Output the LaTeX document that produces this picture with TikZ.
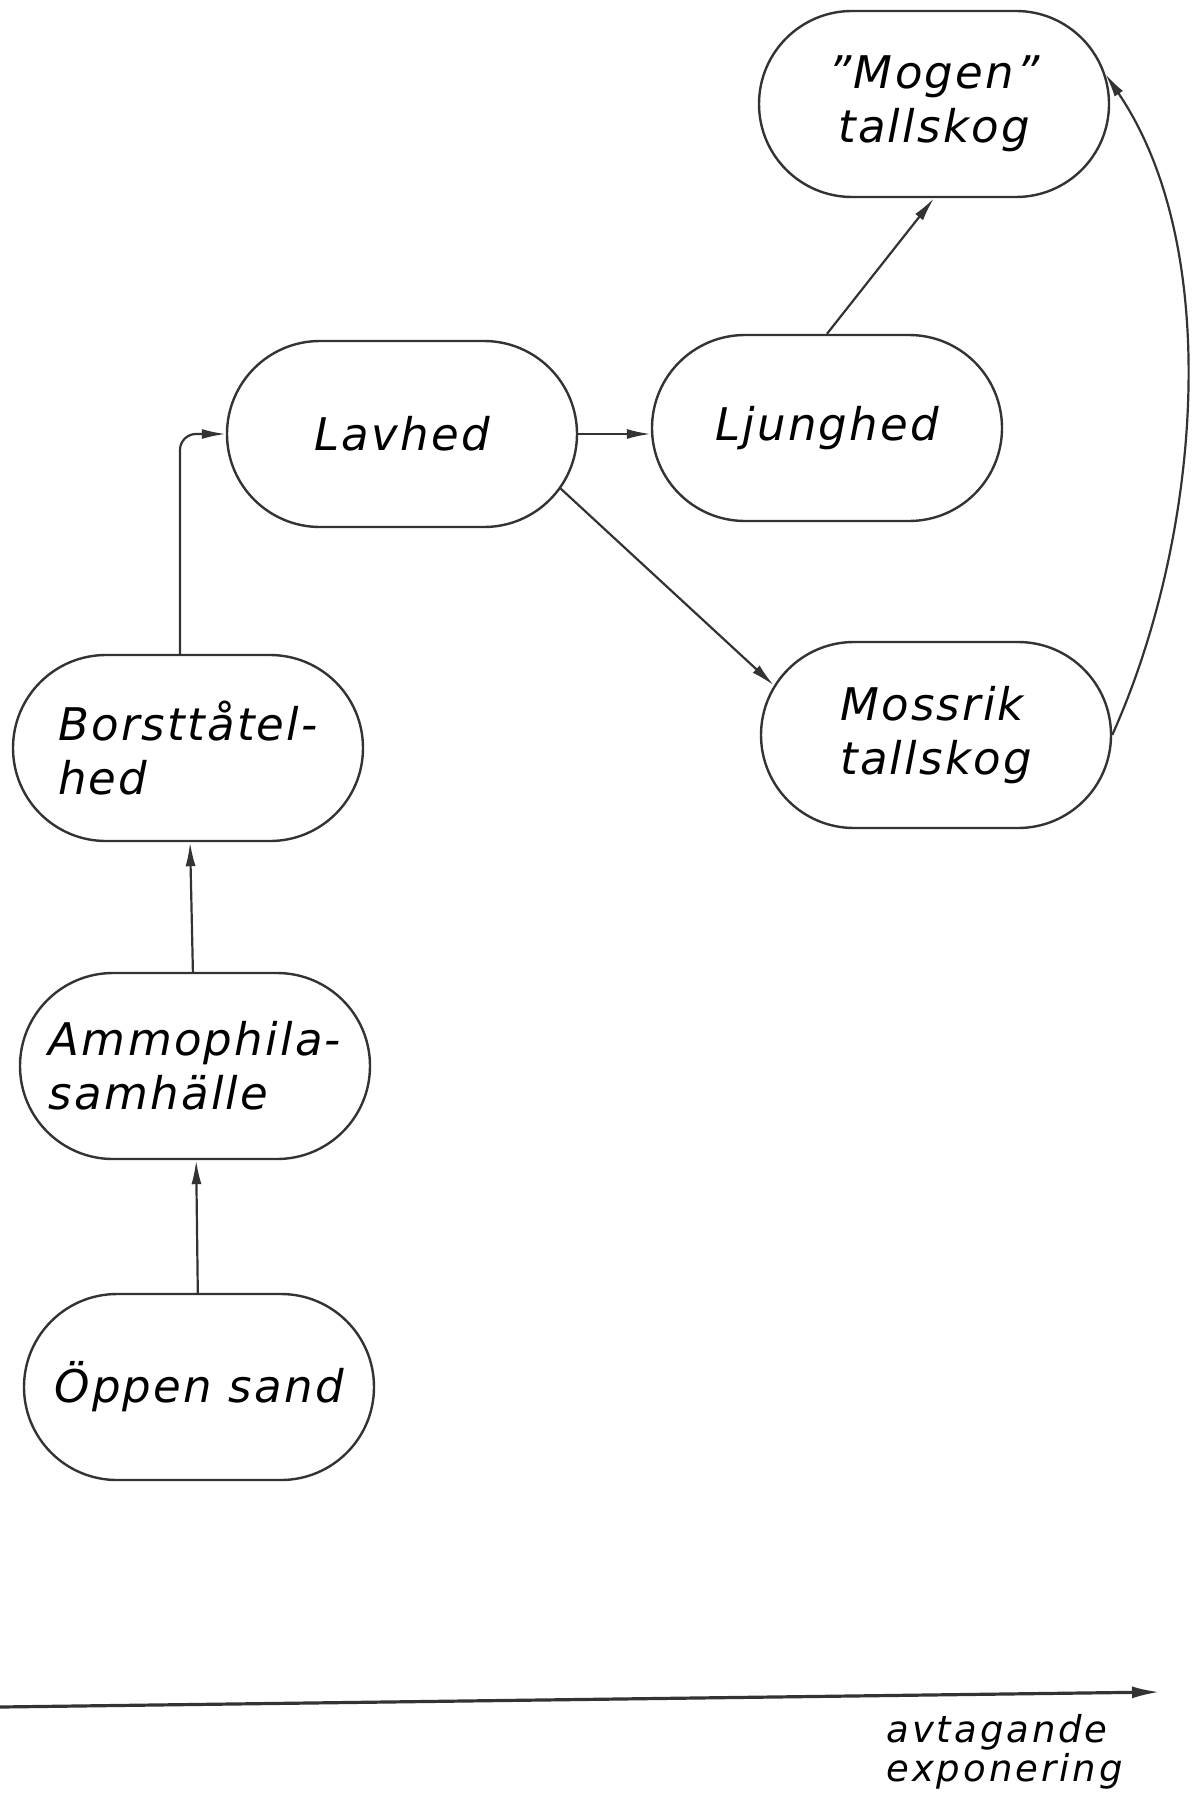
\documentclass[tikz,border=0pt]{standalone}
\usepackage{fontspec}
\setmainfont{DejaVu Sans}[LetterSpace=5]
\usetikzlibrary{shapes.misc,arrows.meta,positioning}

\begin{document}
\begin{tikzpicture}[x=0.5pt,y=-0.5pt,
    stage/.style={draw=black!80,line width=1.2pt,rounded rectangle,
      minimum width=175pt,minimum height=93pt,inner sep=0pt,
      font=\fontsize{22.5}{27}\selectfont\itshape},
    succ/.style={draw=black!80,line width=1.1pt,-{Latex[length=12pt,width=5pt]}}]
\useasboundingbox (0,0) rectangle (1201,1797);
\node[stage,align=center] (mogen) at (934,104) {"Mogen"\\tallskog};
\node[stage] (lavhed) at (402,434) {Lavhed};
\node[stage] (ljung) at (827,428) {Ljunghed};
\node[stage,align=left] (mossrik) at (936,735) {Mossrik\\tallskog};
\node[stage,align=left] (borst) at (188,748) {Borsttåtel-\\hed};
\node[stage,align=left] (ammo) at (195,1066) {Ammophila-\\samhälle};
\node[stage] (oppen) at (199,1387) {Öppen sand};
\draw[succ] (oppen) -- (ammo);
\draw[succ] (ammo) -- (borst);
\draw[succ,rounded corners=8pt] (borst.north -| 180,0) |- (lavhed.west);
\draw[succ] (lavhed.east) -- (lavhed.east -| ljung.west);
\draw[succ] (lavhed.-19) -- (mossrik.163);
\draw[succ] (ljung.north) -- (mogen.south);
\draw[succ] (mossrik.east) .. controls (1200,540) and (1225,250) .. (mogen.10);
\coordinate (axstart) at (0,1707);
\coordinate (axend) at (1160,1692);
\draw[draw=black!80,line width=1.6pt,-{Latex[length=14pt,width=6pt]}] (axstart) -- (axend);
\node[anchor=north west,inner sep=0pt,align=left,
  font=\fontsize{18.5}{19.5}\selectfont\itshape\addfontfeature{LetterSpace=8}]
  (expo) at (886,1714) {avtagande\\exponering};
\end{tikzpicture}
\end{document}
